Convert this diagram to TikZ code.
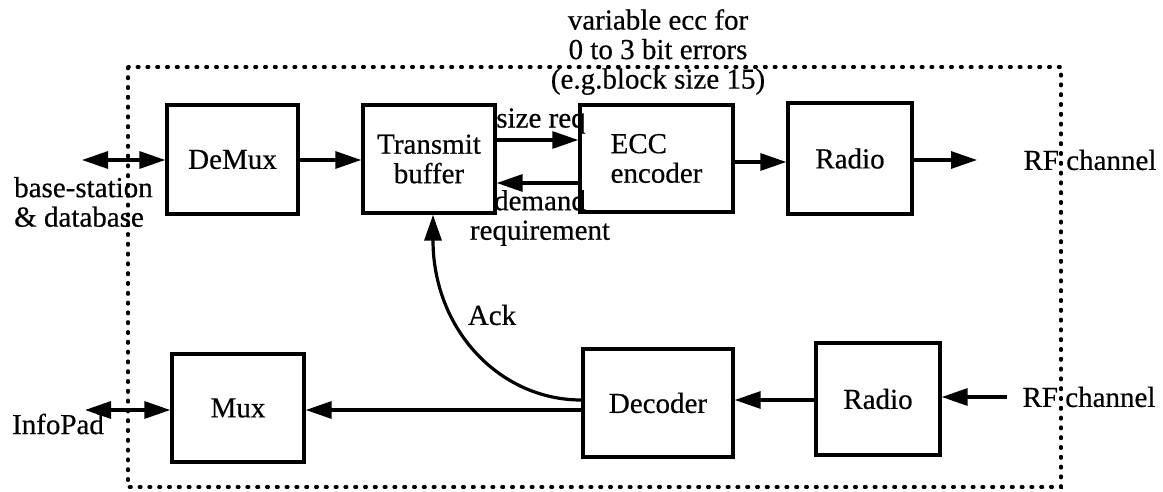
\documentclass[tikz,border=0pt]{standalone}
\usepackage{fontspec}
\setmainfont{Liberation Serif}
\newfontfamily\heavyserif{Liberation Serif}[FakeBold=0.5]
\usetikzlibrary{arrows.meta}
\tikzset{
  blk/.style={draw, line width=3.4pt, inner sep=0pt, align=center},
  lbl/.style={inner sep=0pt, align=center},
  arr/.style={line width=3.2pt, -{Triangle[length=26pt,width=17pt]}},
  biarr/.style={line width=3.2pt, {Triangle[length=26pt,width=17pt]}-{Triangle[length=26pt,width=17pt]}},
  frame/.style={line width=3.2pt, dash pattern=on 1.8pt off 8pt, line cap=round},
}
\begin{document}
\begin{tikzpicture}[x=1pt, y=-1pt, font=\heavyserif\fontsize{29}{29.5}\selectfont]
\useasboundingbox (0,0) rectangle (1163,492);

% enclosing dotted boundary
\draw[frame] (128,67) rectangle (1061,487);

% transmit path
\node[blk, minimum width=131pt, minimum height=109pt] (demux) at (232.5,159.5) {DeMux};
\node[blk, minimum width=132pt, minimum height=108pt] (tb) at (429,159) {Transmit\\buffer};
\node[blk, minimum width=153pt, minimum height=107pt, align=left] (ecc) at (656.5,158.5) {ECC\\encoder};
\node[blk, minimum width=124pt, minimum height=111pt] (radtx) at (850,158.5) {Radio};

% receive path
\node[blk, minimum width=132pt, minimum height=108pt] (mux) at (238,408) {Mux};
\node[blk, minimum width=150pt, minimum height=108pt] (dec) at (658,403) {Decoder};
\node[blk, minimum width=124pt, minimum height=112pt] (radrx) at (878,399) {Radio};

% outside labels
\node[lbl, anchor=west, align=left] (bs) at (14,202) {base-station\\\&\ database};
\node[lbl] (ip) at (58,424) {InfoPad};
\node[lbl] (rftx) at (1090,160) {RF channel};
\node[lbl] (rfrx) at (1089,397) {RF channel};
\node[lbl] (ecctxt) at (658,52) {variable ecc for\\0 to 3 bit errors\\(e.g.block size 15)};

% free ends of the outer connectors
\coordinate (bsend) at (82,160);
\coordinate (ipend) at (85,410);
\coordinate (txend) at (977,160);
\coordinate (rxstart) at (1007,397);

% transmit connectors
\draw[biarr] (bsend) -- (bsend -| demux.west);
\draw[arr] (demux.east |- 0,160) -- (tb.west |- 0,160);
\draw[arr] (tb.east |- 0,140) -- (ecc.west |- 0,140);
\node[lbl] (sizereq) at (541,121) {size req};
\draw[arr] (ecc.west |- 0,183) -- (tb.east |- 0,183);
\node[lbl] (demand) at (540,218) {demand\\requirement};
\draw[arr] (ecc.east |- 0,162) -- (radtx.west |- 0,162);
\draw[arr] (radtx.east |- 0,160) -- (txend);

% receive connectors
\draw[arr] (rxstart) -- (rxstart -| radrx.east);
\draw[arr] (radrx.west |- 0,400) -- (dec.east |- 0,400);
\draw[arr] (dec.west |- 0,410) -- (mux.east |- 0,410);
\draw[biarr] (ipend) -- (ipend -| mux.west);

% acknowledgement back to the transmit buffer
\draw[arr] (dec.west |- 0,400) .. controls (500,400) and (433,330) .. (tb.south -| 433,0);
\node[lbl] (ack) at (492,315) {Ack};
\end{tikzpicture}
\end{document}
